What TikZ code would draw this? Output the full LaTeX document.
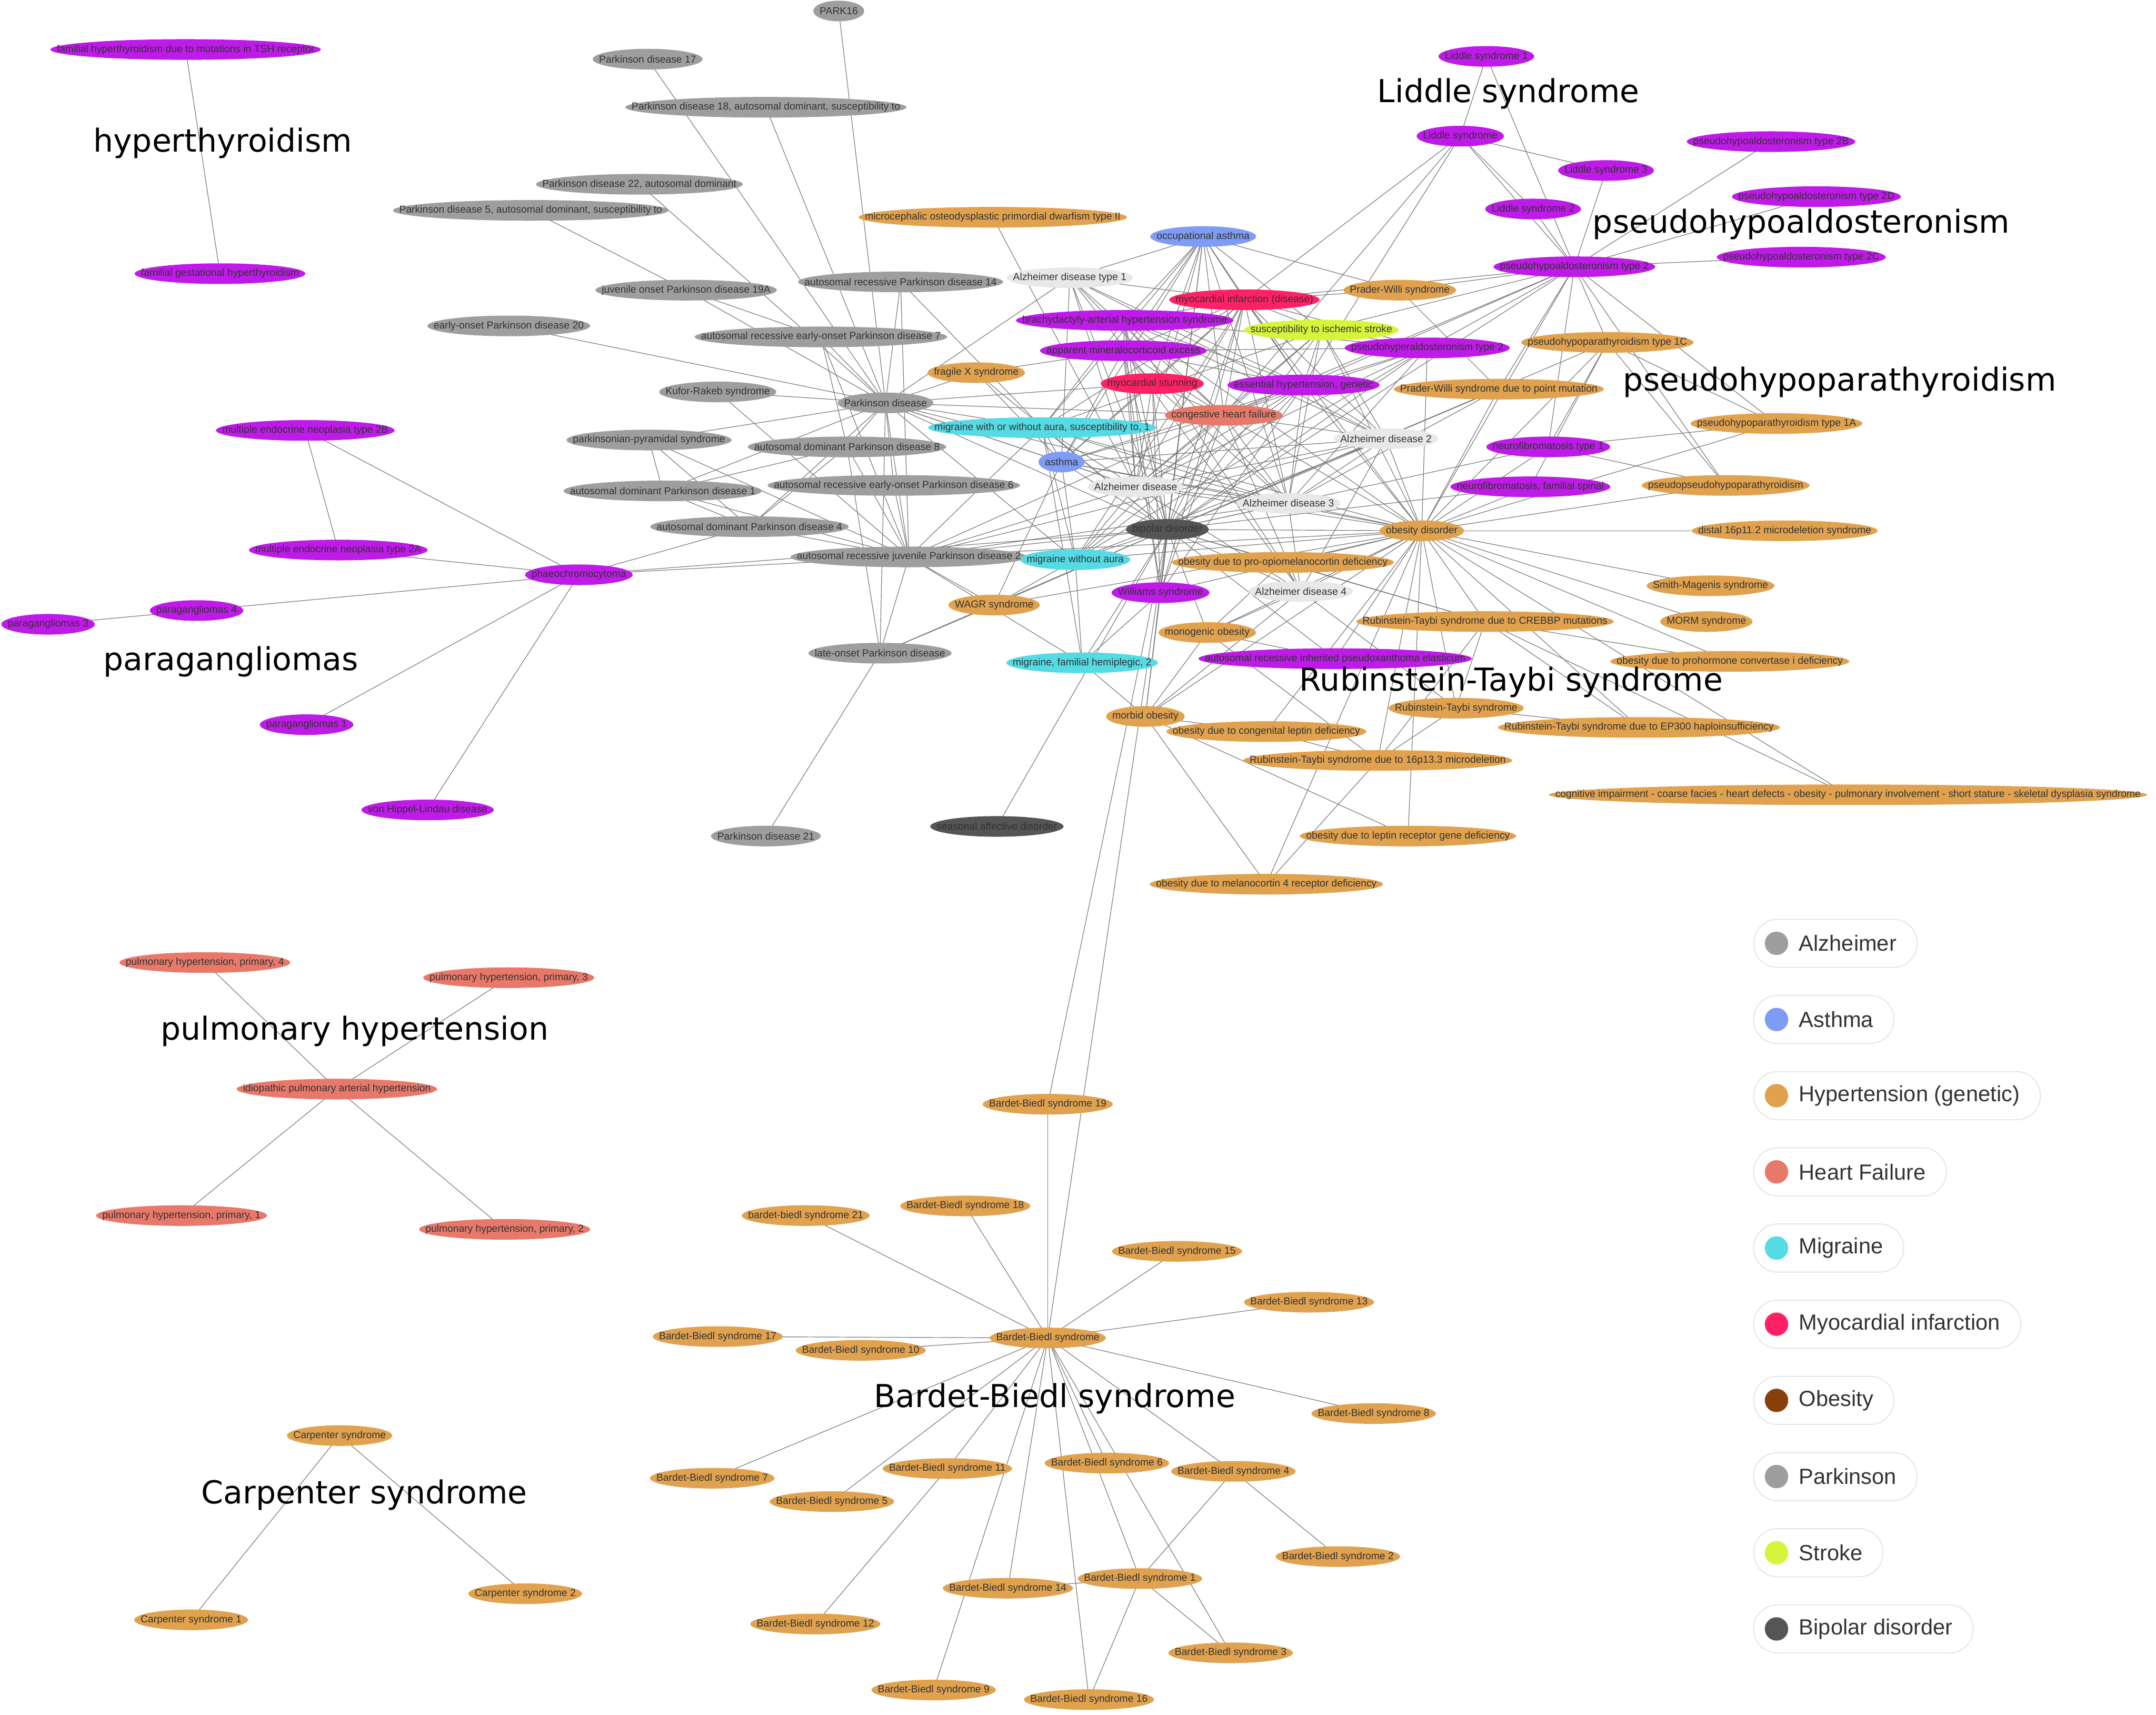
\documentclass[tikz,border=0pt]{standalone}
\usepackage{fontspec}
\setmainfont{Liberation Sans}
\newfontfamily\bigfont{DejaVu Sans}
\usepackage{tikz}
\usetikzlibrary{calc}
\definecolor{parkgray}{RGB}{158,158,158}
\definecolor{alzgray}{RGB}{232,232,232}
\definecolor{asthblue}{RGB}{127,156,245}
\definecolor{hyporange}{RGB}{224,162,78}
\definecolor{hfsalmon}{RGB}{232,121,106}
\definecolor{migcyan}{RGB}{85,219,228}
\definecolor{mired}{RGB}{255,32,102}
\definecolor{obbrown}{RGB}{136,64,10}
\definecolor{strokelime}{RGB}{214,245,58}
\definecolor{bipdark}{RGB}{85,85,85}
\definecolor{synpurple}{RGB}{190,26,232}
\definecolor{linkgray}{RGB}{120,120,120}
\definecolor{labelink}{RGB}{51,51,51}
\definecolor{pillrim}{RGB}{228,228,228}
\pgfdeclarelayer{edges}
\pgfdeclarelayer{fills}
\pgfsetlayers{edges,fills,main}
\tikzset{
    distext/.style={inner sep=0pt, text=labelink, font=\fontsize{10.5}{12}\selectfont},
    link/.style={linkgray, line width=0.65pt},
    grouplabel/.style={inner sep=0pt, text={RGB:red,34;green,34;blue,34}, font=\bigfont\fontsize{32.7}{38}\selectfont},
    legpill/.style={draw=pillrim, line width=1pt, rounded corners=0.87cm, minimum height=1.75cm,
        anchor=west, inner xsep=0.75cm, text=labelink, font=\fontsize{22.7}{26}\selectfont},
}
% disease node: name, colour, position, label
\newcommand{\disnode}[4]{%
    \node[distext] (#1) at (#3) {#4};
    \begin{pgfonlayer}{fills}
        \fill[#2] let \p1 = ($(#1.east)-(#1.west)$) in
            (#1.center) ellipse [x radius={0.5*\x1+0.225cm}, y radius=0.375cm];
    \end{pgfonlayer}}
\begin{document}
\begin{tikzpicture}[x=0.05cm, y=-0.05cm]
    \useasboundingbox (0,0) rectangle (1568,1247);
    \begin{pgfonlayer}{edges}
        \fill[white] (0,0) rectangle (1568,1247);
    \end{pgfonlayer}

    % Hyperthyroidism
    \disnode{fhtsh}{synpurple}{135,36}{familial hyperthyroidism due to mutations in TSH receptor}
    \disnode{fgh}{synpurple}{160,199}{familial gestational hyperthyroidism}

    % Parkinson
    \disnode{park16}{parkgray}{610,8}{PARK16}
    \disnode{pd17}{parkgray}{471,43}{Parkinson disease 17}
    \disnode{pd18}{parkgray}{557,78}{Parkinson disease 18, autosomal dominant, susceptibility to}
    \disnode{pd22}{parkgray}{465,134}{Parkinson disease 22, autosomal dominant}
    \disnode{pd5}{parkgray}{386,153}{Parkinson disease 5, autosomal dominant, susceptibility to}
    \disnode{arpd14}{parkgray}{655,205}{autosomal recessive Parkinson disease 14}
    \disnode{jpd19a}{parkgray}{499,211}{juvenile onset Parkinson disease 19A}
    \disnode{eopd20}{parkgray}{370,237}{early-onset Parkinson disease 20}
    \disnode{areopd7}{parkgray}{597,245}{autosomal recessive early-onset Parkinson disease 7}
    \disnode{kufor}{parkgray}{522,285}{Kufor-Rakeb syndrome}
    \disnode{pd}{parkgray}{644,293}{Parkinson disease}
    \disnode{pps}{parkgray}{472,320}{parkinsonian-pyramidal syndrome}
    \disnode{adpd8}{parkgray}{616,325}{autosomal dominant Parkinson disease 8}
    \disnode{adpd1}{parkgray}{482,357}{autosomal dominant Parkinson disease 1}
    \disnode{areopd6}{parkgray}{650,353}{autosomal recessive early-onset Parkinson disease 6}
    \disnode{adpd4}{parkgray}{545,383}{autosomal dominant Parkinson disease 4}
    \disnode{arjpd2}{parkgray}{661,405}{autosomal recessive juvenile Parkinson disease 2}
    \disnode{lopd}{parkgray}{640,475}{late-onset Parkinson disease}
    \disnode{pd21}{parkgray}{557,608}{Parkinson disease 21}

    % Alzheimer, asthma, heart, stroke, migraine, bipolar
    \disnode{ad1}{alzgray}{778,202}{Alzheimer disease type 1}
    \disnode{ad}{alzgray}{826,354}{Alzheimer disease}
    \disnode{ad2}{alzgray}{1008,319}{Alzheimer disease 2}
    \disnode{ad3}{alzgray}{937,366}{Alzheimer disease 3}
    \disnode{ad4}{alzgray}{946,430}{Alzheimer disease 4}
    \disnode{oasthma}{asthblue}{875,172}{occupational asthma}
    \disnode{asthma}{asthblue}{772,336}{asthma}
    \disnode{mi}{mired}{905,218}{myocardial infarction (disease)}
    \disnode{mstun}{mired}{838,279}{myocardial stunning}
    \disnode{chf}{hfsalmon}{890,302}{congestive heart failure}
    \disnode{sis}{strokelime}{961,240}{susceptibility to ischemic stroke}
    \disnode{mwa1}{migcyan}{758,311}{migraine with or without aura, susceptibility to, 1}
    \disnode{mwoa}{migcyan}{782,407}{migraine without aura}
    \disnode{fhm2}{migcyan}{787,482}{migraine, familial hemiplegic, 2}
    \disnode{bd}{bipdark}{849,385}{bipolar disorder}
    \disnode{sad}{bipdark}{725,601}{seasonal affective disorder}

    % Syndromes
    \disnode{bahs}{synpurple}{818,233}{brachydactyly-arterial hypertension syndrome}
    \disnode{ame}{synpurple}{817,255}{apparent mineralocorticoid excess}
    \disnode{ehg}{synpurple}{948,280}{essential hypertension, genetic}
    \disnode{pha2}{synpurple}{1038,253}{pseudohyperaldosteronism type 2}
    \disnode{nf1}{synpurple}{1126,325}{neurofibromatosis type 1}
    \disnode{nffs}{synpurple}{1113,354}{neurofibromatosis, familial spinal}
    \disnode{ws}{synpurple}{844,431}{Williams syndrome}
    \disnode{arpxe}{synpurple}{971,479}{autosomal recessive inherited pseudoxanthoma elasticum}
    \disnode{phox}{synpurple}{1145,194}{pseudohypoaldosteronism type 2}
    \disnode{pha2b}{synpurple}{1288,103}{pseudohypoaldosteronism type 2B}
    \disnode{pha2d}{synpurple}{1321,143}{pseudohypoaldosteronism type 2D}
    \disnode{pha2c}{synpurple}{1310,187}{pseudohypoaldosteronism type 2C}
    \disnode{ls1}{synpurple}{1081,41}{Liddle syndrome 1}
    \disnode{ls}{synpurple}{1062,99}{Liddle syndrome}
    \disnode{ls3}{synpurple}{1168,124}{Liddle syndrome 3}
    \disnode{ls2}{synpurple}{1115,152}{Liddle syndrome 2}
    \disnode{phaeo}{synpurple}{421,418}{phaeochromocytoma}
    \disnode{men2b}{synpurple}{222,313}{multiple endocrine neoplasia type 2B}
    \disnode{men2a}{synpurple}{246,400}{multiple endocrine neoplasia type 2A}
    \disnode{pgl4}{synpurple}{143,444}{paragangliomas 4}
    \disnode{pgl3}{synpurple}{35,454}{paragangliomas 3}
    \disnode{pgl1}{synpurple}{223,527}{paragangliomas 1}
    \disnode{vhl}{synpurple}{311,589}{von Hippel-Lindau disease}

    % Hypertension (genetic)
    \disnode{mopd2}{hyporange}{722,158}{microcephalic osteodysplastic primordial dwarfism type II}
    \disnode{fxs}{hyporange}{710,271}{fragile X syndrome}
    \disnode{pws}{hyporange}{1018,211}{Prader-Willi syndrome}
    \disnode{pwsp}{hyporange}{1090,283}{Prader-Willi syndrome due to point mutation}
    \disnode{php1c}{hyporange}{1169,249}{pseudohypoparathyroidism type 1C}
    \disnode{php1a}{hyporange}{1292,308}{pseudohypoparathyroidism type 1A}
    \disnode{pphp}{hyporange}{1255,353}{pseudopseudohypoparathyroidism}
    \disnode{od}{hyporange}{1034,386}{obesity disorder}
    \disnode{d16}{hyporange}{1298,386}{distal 16p11.2 microdeletion syndrome}
    \disnode{sms}{hyporange}{1244,426}{Smith-Magenis syndrome}
    \disnode{morm}{hyporange}{1241,452}{MORM syndrome}
    \disnode{pomc}{hyporange}{933,409}{obesity due to pro-opiomelanocortin deficiency}
    \disnode{wagr}{hyporange}{723,440}{WAGR syndrome}
    \disnode{mo}{hyporange}{878,460}{monogenic obesity}
    \disnode{rtsc}{hyporange}{1080,452}{Rubinstein-Taybi syndrome due to CREBBP mutations}
    \disnode{pc1}{hyporange}{1258,481}{obesity due to prohormone convertase i deficiency}
    \disnode{rts}{hyporange}{1059,515}{Rubinstein-Taybi syndrome}
    \disnode{rtse}{hyporange}{1192,529}{Rubinstein-Taybi syndrome due to EP300 haploinsufficiency}
    \disnode{mob}{hyporange}{833,521}{morbid obesity}
    \disnode{cld}{hyporange}{921,532}{obesity due to congenital leptin deficiency}
    \disnode{rts16}{hyporange}{1002,553}{Rubinstein-Taybi syndrome due to 16p13.3 microdeletion}
    \disnode{cic}{hyporange}{1344,578}{cognitive impairment - coarse facies - heart defects - obesity - pulmonary involvement - short stature - skeletal dysplasia syndrome}
    \disnode{lrd}{hyporange}{1024,608}{obesity due to leptin receptor gene deficiency}
    \disnode{mc4r}{hyporange}{921,643}{obesity due to melanocortin 4 receptor deficiency}

    % Pulmonary hypertension
    \disnode{ph4}{hfsalmon}{149,700}{pulmonary hypertension, primary, 4}
    \disnode{ph3}{hfsalmon}{370,711}{pulmonary hypertension, primary, 3}
    \disnode{ipah}{hfsalmon}{245,792}{idiopathic pulmonary arterial hypertension}
    \disnode{ph1}{hfsalmon}{132,884}{pulmonary hypertension, primary, 1}
    \disnode{ph2}{hfsalmon}{367,894}{pulmonary hypertension, primary, 2}

    % Carpenter
    \disnode{cs}{hyporange}{247,1044}{Carpenter syndrome}
    \disnode{cs1}{hyporange}{139,1178}{Carpenter syndrome 1}
    \disnode{cs2}{hyporange}{382,1159}{Carpenter syndrome 2}

    % Bardet-Biedl
    \disnode{bb19}{hyporange}{762,803}{Bardet-Biedl syndrome 19}
    \disnode{bb21}{hyporange}{586,884}{bardet-biedl syndrome 21}
    \disnode{bb18}{hyporange}{702,877}{Bardet-Biedl syndrome 18}
    \disnode{bb15}{hyporange}{856,910}{Bardet-Biedl syndrome 15}
    \disnode{bb13}{hyporange}{952,947}{Bardet-Biedl syndrome 13}
    \disnode{bb17}{hyporange}{522,972}{Bardet-Biedl syndrome 17}
    \disnode{bbs}{hyporange}{762,973}{Bardet-Biedl syndrome}
    \disnode{bb10}{hyporange}{626,982}{Bardet-Biedl syndrome 10}
    \disnode{bb8}{hyporange}{999,1028}{Bardet-Biedl syndrome 8}
    \disnode{bb7}{hyporange}{518,1075}{Bardet-Biedl syndrome 7}
    \disnode{bb11}{hyporange}{689,1068}{Bardet-Biedl syndrome 11}
    \disnode{bb6}{hyporange}{805,1064}{Bardet-Biedl syndrome 6}
    \disnode{bb4}{hyporange}{897,1070}{Bardet-Biedl syndrome 4}
    \disnode{bb5}{hyporange}{605,1092}{Bardet-Biedl syndrome 5}
    \disnode{bb2}{hyporange}{973,1132}{Bardet-Biedl syndrome 2}
    \disnode{bb14}{hyporange}{733,1155}{Bardet-Biedl syndrome 14}
    \disnode{bb1}{hyporange}{829,1148}{Bardet-Biedl syndrome 1}
    \disnode{bb12}{hyporange}{593,1181}{Bardet-Biedl syndrome 12}
    \disnode{bb3}{hyporange}{895,1202}{Bardet-Biedl syndrome 3}
    \disnode{bb9}{hyporange}{679,1229}{Bardet-Biedl syndrome 9}
    \disnode{bb16}{hyporange}{792,1236}{Bardet-Biedl syndrome 16}

    % Group titles
    \node[grouplabel] (tHyper) at (162,104) {hyperthyroidism};
    \node[grouplabel] (tLiddle) at (1097,68) {Liddle syndrome};
    \node[grouplabel] (tPha) at (1310,163) {pseudohypoaldosteronism};
    \node[grouplabel] (tPhp) at (1338,278) {pseudohypoparathyroidism};
    \node[grouplabel] (tPara) at (168,481) {paragangliomas};
    \node[grouplabel] (tRts) at (1099,496) {Rubinstein-Taybi syndrome};
    \node[grouplabel] (tPh) at (258,750) {pulmonary hypertension};
    \node[grouplabel] (tBbs) at (767,1017) {Bardet-Biedl syndrome};
    \node[grouplabel] (tCarp) at (265,1087) {Carpenter syndrome};

    % Links
    \begin{pgfonlayer}{edges}
        \foreach \a/\b in {fhtsh/fgh, ph4/ipah, ph3/ipah, ipah/ph1, ipah/ph2, cs/cs1, cs/cs2,
            men2b/men2a, men2b/phaeo, men2a/phaeo, pgl4/phaeo, pgl3/pgl4, phaeo/pgl1, phaeo/vhl,
            phaeo/adpd4, phaeo/arjpd2, phaeo/bd}
            \draw[link] (\a) -- (\b);
        % Liddle and pseudohypoaldosteronism
        \foreach \a/\b in {ls1/ls, ls1/phox, ls/ls3, ls/ls2, ls/phox, ls2/phox, ls3/phox,
            pha2b/phox, pha2d/phox, pha2c/phox, pws/phox, ls/mi, ls/chf, ls/ehg,
            phox/pha2, phox/ehg, phox/sis, phox/bd, phox/od, phox/nf1, phox/php1c, phox/php1a,
            phox/pphp, phox/pwsp, phox/mi, phox/chf,
            php1c/od, php1c/nf1, php1c/nffs, php1c/pphp, php1c/php1a, php1c/bd,
            pws/pwsp, pws/oasthma, pws/mi, nf1/php1a, nf1/pphp, nf1/od, nf1/bd,
            nffs/od, nffs/bd, php1a/od, pphp/od, pwsp/od, pwsp/bd, pwsp/ad3}
            \draw[link] (\a) -- (\b);
        % Parkinson
        \foreach \a/\b in {park16/pd, pd17/pd, pd18/pd, pd22/pd, pd5/jpd19a, jpd19a/pd,
            jpd19a/areopd7, eopd20/pd, arpd14/pd, arpd14/mwa1, arpd14/arjpd2, areopd7/pd,
            areopd7/arjpd2, areopd7/adpd8, kufor/pd, kufor/arjpd2, pps/pd, pps/adpd1, pps/adpd4,
            pps/arjpd2, adpd8/pd, adpd8/adpd1, adpd8/adpd4, adpd8/arjpd2, adpd8/lopd,
            adpd1/adpd4, adpd1/arjpd2, adpd1/pd, areopd6/pd, areopd6/arjpd2, adpd4/arjpd2,
            adpd4/pd, arjpd2/pd, lopd/pd, lopd/arjpd2, pd21/lopd, mopd2/ad, fxs/pd, fxs/ame,
            fxs/bd, fxs/asthma, pd/mstun, pd/chf, pd/mwa1, pd/asthma, pd/ad, pd/bd, pd/ad1,
            pd/ad3, pd/mwoa, arjpd2/bd, arjpd2/ad, arjpd2/mwoa, arjpd2/wagr, arjpd2/fhm2,
            arjpd2/ad2, arjpd2/chf, arjpd2/ad3, arjpd2/od, arjpd2/mwa1}
            \draw[link] (\a) -- (\b);
        % Central hub
        \foreach \a/\b in {ad1/oasthma, ad1/mi, ad1/mstun, ad1/chf, ad1/bd, ad1/ad, ad1/ehg,
            ad1/asthma, ad1/ad3, ad1/ad2,
            oasthma/bahs, oasthma/ame, oasthma/mi, oasthma/mstun, oasthma/chf, oasthma/ehg,
            oasthma/bd, oasthma/ad, oasthma/asthma, oasthma/sis, oasthma/ws, oasthma/mwa1,
            oasthma/ad3,
            mi/bahs, mi/ame, mi/ehg, mi/sis, mi/chf, mi/mstun, mi/bd, mi/ad, mi/asthma, mi/mwa1,
            mi/ad3, mi/ad2, mi/od, mi/ws, mi/pha2, mi/mwoa,
            bahs/ame, bahs/ehg, bahs/chf, bahs/bd, bahs/ad, bahs/pha2, bahs/ad2, bahs/od, bahs/ws,
            bahs/ad4, bahs/mwa1,
            ame/ehg, ame/chf, ame/bd, ame/ad, ame/pha2, ame/ws, ame/ad4, ame/asthma, ame/mstun,
            ehg/pha2, ehg/chf, ehg/bd, ehg/ad, ehg/ad3, ehg/od, ehg/ad2, ehg/ws, ehg/mwoa,
            ehg/sis, ehg/asthma,
            mstun/chf, mstun/bd, mstun/ad, mstun/asthma, mstun/ad3, mstun/ws,
            chf/mwa1, chf/bd, chf/ad, chf/asthma, chf/ad3, chf/ad4, chf/od, chf/sis, chf/mwoa,
            chf/ws, chf/ad2, chf/pha2,
            sis/pha2, sis/bd, sis/ad, sis/od, sis/ad3, sis/mwa1, sis/ad2,
            pha2/bd, pha2/od, pha2/ad, pha2/ad3, pha2/mwoa}
            \draw[link] (\a) -- (\b);
        % Alzheimer, bipolar and obesity
        \foreach \a/\b in {ad/bd, ad/asthma, ad/mwa1, ad/ad2, ad/ad3, ad/od, ad/ad4, ad/mwoa,
            ad2/bd, ad2/od, ad2/ad4, ad2/ad3, ad2/mwoa, ad2/asthma,
            ad3/bd, ad3/od, ad3/ad4, ad3/asthma, ad3/mwa1,
            ad4/bd, ad4/od, ad4/pomc, ad4/mo, ad4/mob, ad4/rts,
            bd/asthma, bd/mwa1, bd/mwoa, bd/od, bd/pomc, bd/ws, bd/mo, bd/wagr, bd/arpxe, bd/rtsc,
            bd/sad, bd/bb19, bd/bbs, bd/fhm2, bd/lopd, bd/mob,
            asthma/mwa1, asthma/mwoa, asthma/od, asthma/wagr, mwa1/mwoa, mwa1/fhm2, mwa1/od,
            mwoa/wagr, mwoa/fhm2, mwoa/od, fhm2/mob, fhm2/ws, wagr/od, wagr/lopd,
            ws/od, ws/mob,
            od/d16, od/sms, od/morm, od/pc1, od/cic, od/rtsc, od/rts, od/rtse, od/rts16, od/pomc,
            od/mo, od/arpxe, od/mob, od/cld, od/lrd, od/mc4r,
            pomc/mo, pomc/rtsc, mo/arpxe, mo/rts16, mo/mob,
            rtsc/rts, rtsc/rts16, rtsc/rtse, rtsc/cic, rtsc/pc1, rts/rtse, rts/rts16,
            rts16/mc4r, rts16/cld, mob/cld, mob/lrd, mob/mc4r}
            \draw[link] (\a) -- (\b);
        % Bardet-Biedl
        \foreach \a/\b in {bb19/bbs, bbs/bb21, bbs/bb18, bbs/bb15, bbs/bb13, bbs/bb17, bbs/bb10,
            bbs/bb8, bbs/bb7, bbs/bb11, bbs/bb6, bbs/bb4, bbs/bb5, bbs/bb14, bbs/bb1, bbs/bb9,
            bbs/bb16, bbs/bb3, bb11/bb12, bb1/bb14, bb1/bb16, bb1/bb4, bb1/bb3, bb4/bb2}
            \draw[link] (\a) -- (\b);
    \end{pgfonlayer}

    % Legend
    \foreach \col/\txt [count=\i] in {parkgray/Alzheimer, asthblue/Asthma,
        hyporange/Hypertension (genetic), hfsalmon/Heart Failure, migcyan/Migraine,
        mired/Myocardial infarction, obbrown/Obesity, parkgray/Parkinson,
        strokelime/Stroke, bipdark/Bipolar disorder} {
        \node[legpill] (key\i) at (1275, {630.6+55.4*\i}) {\hspace*{0.9cm}\txt};
        \fill[\col] ([xshift=0.85cm]key\i.west) circle[radius=0.425cm];
    }
\end{tikzpicture}
\end{document}
